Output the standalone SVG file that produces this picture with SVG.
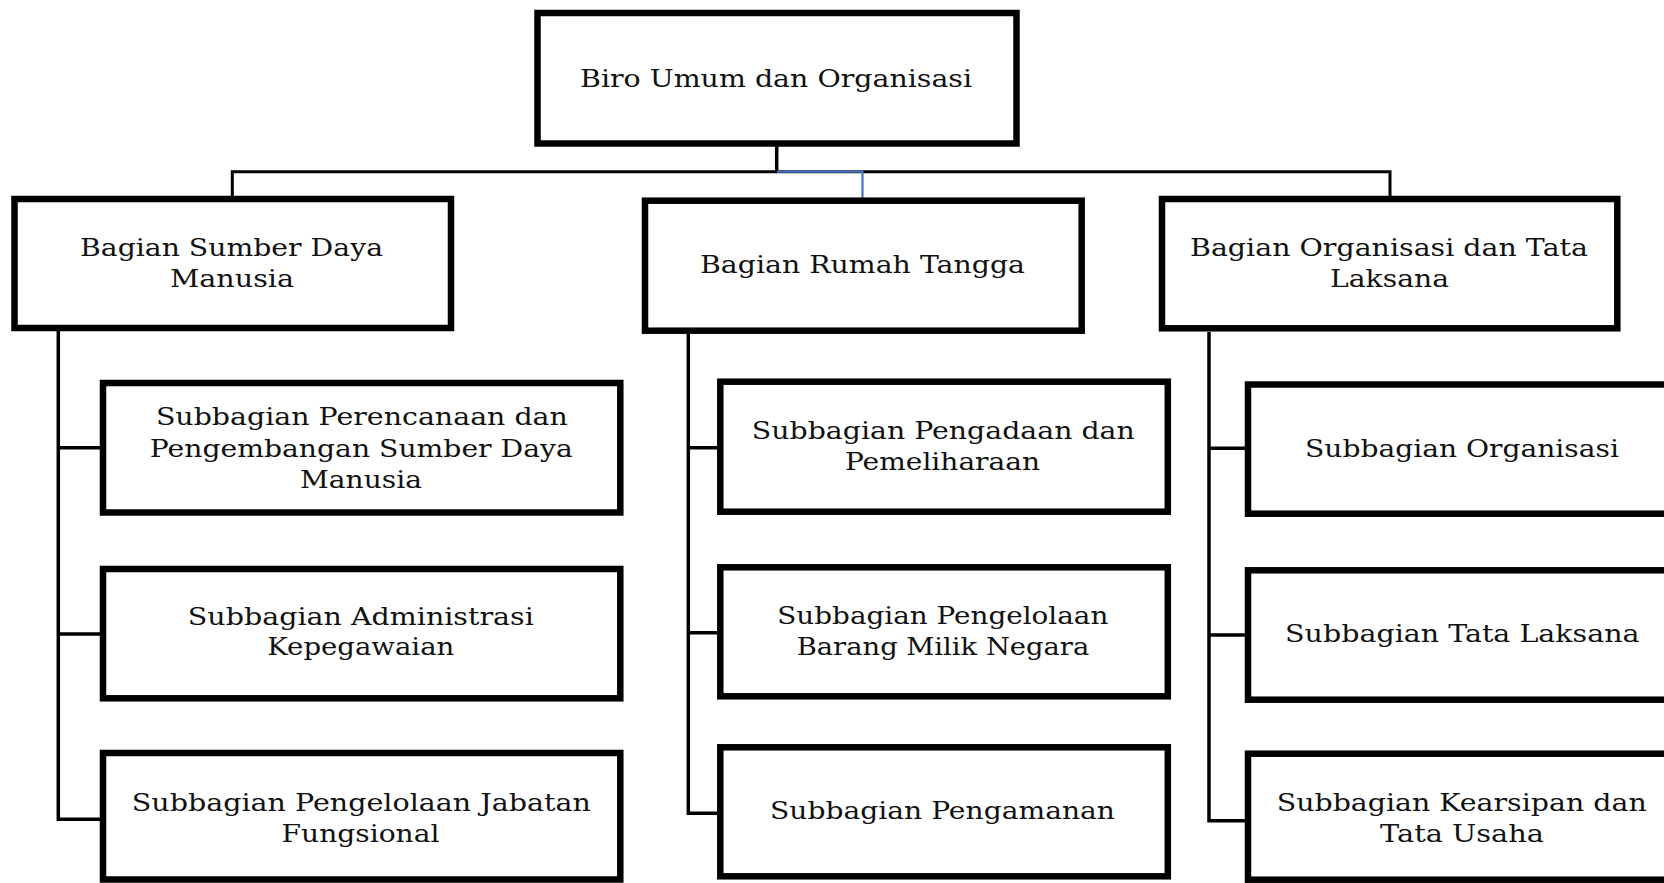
<svg xmlns="http://www.w3.org/2000/svg" width="1664" height="883" viewBox="0 0 1664 883">
<style>
  .box { fill: #ffffff; stroke: #000000; stroke-width: 6.5; }
  .lbl { font-family: "DejaVu Serif", "Liberation Serif", serif; font-size: 25px; fill: #111111; text-anchor: middle; }
  .con { fill: none; stroke: #000000; stroke-width: 3.5; }
  .blue { fill: none; stroke: #4472C4; stroke-width: 2.2; }
</style>
<rect x="0" y="0" width="1664" height="883" fill="#ffffff"/>

<g id="connectors">
  <path class="con" d="M776.7,146 V172"/>
  <path class="con" style="stroke-width:3" d="M232.3,197 V171.7 H1390 V197"/>
  <path class="blue" d="M777,171.7 H862.5 V198"/>
  <path class="con" d="M58.3,331 V819.3 H100 M58.3,447.7 H100 M58.3,634 H100"/>
  <path class="con" d="M688.3,334 V813.3 H717 M688.3,447.7 H717 M688.3,632.7 H717"/>
  <path class="con" d="M1209,332 V820.7 H1245 M1209,448.3 H1245 M1209,635 H1245"/>
</g>

<g id="biro">
  <rect class="box" x="537.5" y="13" width="479" height="130.5"/>
  <text class="lbl" x="776" y="87" textLength="392" lengthAdjust="spacingAndGlyphs">Biro Umum dan Organisasi</text>
</g>

<g id="bagian-sdm">
  <rect class="box" x="14.5" y="199" width="436.5" height="129"/>
  <text class="lbl" x="231.5" y="256" textLength="303" lengthAdjust="spacingAndGlyphs">Bagian Sumber Daya</text>
  <text class="lbl" x="232" y="287" textLength="124" lengthAdjust="spacingAndGlyphs">Manusia</text>
</g>

<g id="bagian-rt">
  <rect class="box" x="645" y="200.7" width="436.7" height="130"/>
  <text class="lbl" x="862.5" y="273" textLength="325" lengthAdjust="spacingAndGlyphs">Bagian Rumah Tangga</text>
</g>

<g id="bagian-otl">
  <rect class="box" x="1162" y="199" width="455.3" height="129.3"/>
  <text class="lbl" x="1389" y="256" textLength="398" lengthAdjust="spacingAndGlyphs">Bagian Organisasi dan Tata</text>
  <text class="lbl" x="1389.5" y="287" textLength="119" lengthAdjust="spacingAndGlyphs">Laksana</text>
</g>

<g id="sub-perencanaan">
  <rect class="box" x="103" y="383" width="517.3" height="129.5"/>
  <text class="lbl" x="361.9" y="425" textLength="412" lengthAdjust="spacingAndGlyphs">Subbagian Perencanaan dan</text>
  <text class="lbl" x="361.3" y="456.5" textLength="423" lengthAdjust="spacingAndGlyphs">Pengembangan Sumber Daya</text>
  <text class="lbl" x="361" y="487.5" textLength="122" lengthAdjust="spacingAndGlyphs">Manusia</text>
</g>

<g id="sub-administrasi">
  <rect class="box" x="103" y="569" width="517.3" height="129.3"/>
  <text class="lbl" x="360.8" y="625" textLength="346" lengthAdjust="spacingAndGlyphs">Subbagian Administrasi</text>
  <text class="lbl" x="360.8" y="655" textLength="187" lengthAdjust="spacingAndGlyphs">Kepegawaian</text>
</g>

<g id="sub-jabatan">
  <rect class="box" x="103" y="753" width="517.3" height="126.5"/>
  <text class="lbl" x="361.3" y="811" textLength="459" lengthAdjust="spacingAndGlyphs">Subbagian Pengelolaan Jabatan</text>
  <text class="lbl" x="360.5" y="842" textLength="158" lengthAdjust="spacingAndGlyphs">Fungsional</text>
</g>

<g id="sub-pengadaan">
  <rect class="box" x="720.3" y="381.7" width="447.5" height="130"/>
  <text class="lbl" x="943.3" y="439" textLength="383" lengthAdjust="spacingAndGlyphs">Subbagian Pengadaan dan</text>
  <text class="lbl" x="942.5" y="470" textLength="195" lengthAdjust="spacingAndGlyphs">Pemeliharaan</text>
</g>

<g id="sub-bmn">
  <rect class="box" x="720.3" y="567.3" width="447.5" height="129"/>
  <text class="lbl" x="942.8" y="624" textLength="331" lengthAdjust="spacingAndGlyphs">Subbagian Pengelolaan</text>
  <text class="lbl" x="943" y="655" textLength="292.6" lengthAdjust="spacingAndGlyphs">Barang Milik Negara</text>
</g>

<g id="sub-pengamanan">
  <rect class="box" x="720.3" y="747.3" width="447.5" height="129"/>
  <text class="lbl" x="942.5" y="819" textLength="345" lengthAdjust="spacingAndGlyphs">Subbagian Pengamanan</text>
</g>

<g id="sub-organisasi">
  <rect class="box" x="1248" y="384.5" width="430" height="129.2"/>
  <text class="lbl" x="1462" y="456.5" textLength="314" lengthAdjust="spacingAndGlyphs">Subbagian Organisasi</text>
</g>

<g id="sub-tatalaksana">
  <rect class="box" x="1248" y="570.3" width="430" height="129.4"/>
  <text class="lbl" x="1462.3" y="642" textLength="354.5" lengthAdjust="spacingAndGlyphs">Subbagian Tata Laksana</text>
</g>

<g id="sub-kearsipan">
  <rect class="box" x="1248" y="753.7" width="430" height="126"/>
  <text class="lbl" x="1461.7" y="811" textLength="370" lengthAdjust="spacingAndGlyphs">Subbagian Kearsipan dan</text>
  <text class="lbl" x="1462" y="842" textLength="164" lengthAdjust="spacingAndGlyphs">Tata Usaha</text>
</g>
</svg>
